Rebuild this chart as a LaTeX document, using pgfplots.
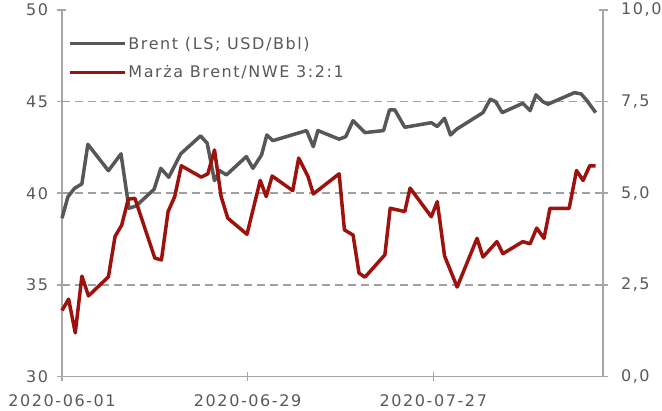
\documentclass[border=0pt]{standalone}
\usepackage{fontspec}
\setmainfont{DejaVu Sans}[LetterSpace=10]
\usepackage{pgfplots}
\pgfplotsset{compat=1.18}

\definecolor{brentgray}{RGB}{87,87,87}
\definecolor{marzared}{RGB}{158,18,14}
\definecolor{axgray}{RGB}{166,166,166}
\definecolor{gridgray}{RGB}{160,160,160}
\definecolor{txtgray}{RGB}{89,89,89}

\pgfplotsset{
  base/.style={
    width=541pt, height=366.5pt, scale only axis,
    xmin=0, xmax=81.6,
    font=\fontsize{16}{19}\selectfont\color{txtgray},
    /pgf/number format/assume math mode=true,
    axis line style={axgray, line width=1.5pt},
    tick style={axgray, line width=1.5pt},
    tick align=center,
    major tick length=9pt,
    clip=false,
  },
}

\begin{document}
\begin{tikzpicture}
% Brent, left axis
\begin{axis}[
    base,
    axis x line*=bottom,
    axis y line*=left,
    ymin=30, ymax=50,
    ytick={30,35,40,45,50},
    extra y ticks={35,40,45},
    extra y tick labels={},
    extra y tick style={ymajorgrids=true, major tick length=0pt},
    major grid style={gridgray, line width=1.5pt, dash pattern=on 8pt off 5pt},
    xtick={0,28,56},
    xticklabels={2020-06-01,2020-06-29,2020-07-27},
    xticklabel style={yshift=-10pt},
    yticklabel style={xshift=-6pt},
]
\addplot[brentgray, line width=3.5pt, line join=round] coordinates {
(0,38.64) (0.9,39.81) (1.9,40.27) (3.0,40.51) (3.9,42.67) (7.0,41.23)
(8.9,42.15) (10.1,39.18) (11.2,39.31) (13.9,40.22) (14.9,41.36) (16.1,40.87)
(17.9,42.15) (20.9,43.13) (21.9,42.73) (23.0,40.69) (23.8,41.23) (24.8,41.00)
(27.8,42.00) (28.8,41.36) (30.1,42.09) (30.9,43.18) (31.8,42.87) (36.9,43.42)
(37.9,42.54) (38.6,43.42) (41.8,42.95) (42.8,43.09) (43.9,43.96) (45.7,43.31)
(48.5,43.42) (49.4,44.55) (50.2,44.55) (51.7,43.60) (55.7,43.85) (56.6,43.64)
(57.7,44.09) (58.6,43.18) (59.5,43.49) (63.5,44.40) (64.6,45.13) (65.4,45.00)
(66.4,44.40) (69.5,44.91) (70.6,44.51) (71.5,45.37) (72.5,45.00) (73.3,44.86)
(77.3,45.49) (78.3,45.42) (79.1,45.09) (80.5,44.40)
};
\end{axis}
% margin, right axis
\begin{axis}[
    base,
    axis x line=none,
    axis y line*=right,
    ymin=0, ymax=10,
    ytick={0,2.5,5,7.5,10},
    yticklabel style={xshift=10pt, /pgf/number format/.cd, fixed, fixed zerofill, precision=1, use comma},
    legend style={at={(0.005,0.938)}, anchor=north west, draw=none, fill=none,
      font=\fontsize{16}{19}\selectfont\color{txtgray}, row sep=11pt,
      /tikz/every even column/.append style={column sep=0pt}},
    legend cell align=left,
    legend image code/.code={\draw[#1] (0pt,0pt) -- (55pt,0pt);},
]
\addlegendimage{brentgray, line width=3.5pt}
\addlegendentry{Brent (LS; USD/Bbl)}
\addplot[marzared, line width=3.5pt, line join=round] coordinates {
(0,1.80) (1,2.11) (2,1.19) (3,2.74) (4,2.20) (7,2.72) (8,3.82) (9,4.13)
(10,4.84) (11,4.86) (14,3.23) (15,3.18) (16,4.50) (17,4.91) (18,5.75)
(21,5.44) (22,5.53) (23,6.18) (24,4.91) (25,4.32) (27.9,3.88)
(29.9,5.35) (30.8,4.91) (31.7,5.47) (34.8,5.07) (35.7,5.96) (37.1,5.46)
(37.9,4.98) (41.8,5.53) (42.6,4.00) (43.9,3.86) (44.8,2.82) (45.7,2.71)
(48.7,3.32) (49.5,4.59) (51.7,4.50) (52.5,5.14) (55.7,4.36) (56.6,4.77)
(57.7,3.29) (59.6,2.44) (62.6,3.77) (63.5,3.26) (65.6,3.68) (66.5,3.35)
(69.5,3.68) (70.6,3.62) (71.6,4.05) (72.7,3.77) (73.6,4.59) (76.5,4.59)
(77.6,5.62) (78.6,5.35) (79.6,5.75) (80.5,5.75)
};
\addlegendentry{Marża Brent/NWE 3:2:1}
\end{axis}
\pgfresetboundingbox
\path[use as bounding box] ([shift={(-62pt,-34.5pt)}]current axis.south west)
  rectangle ([shift={(59pt,10pt)}]current axis.north east);
\end{tikzpicture}
\end{document}
